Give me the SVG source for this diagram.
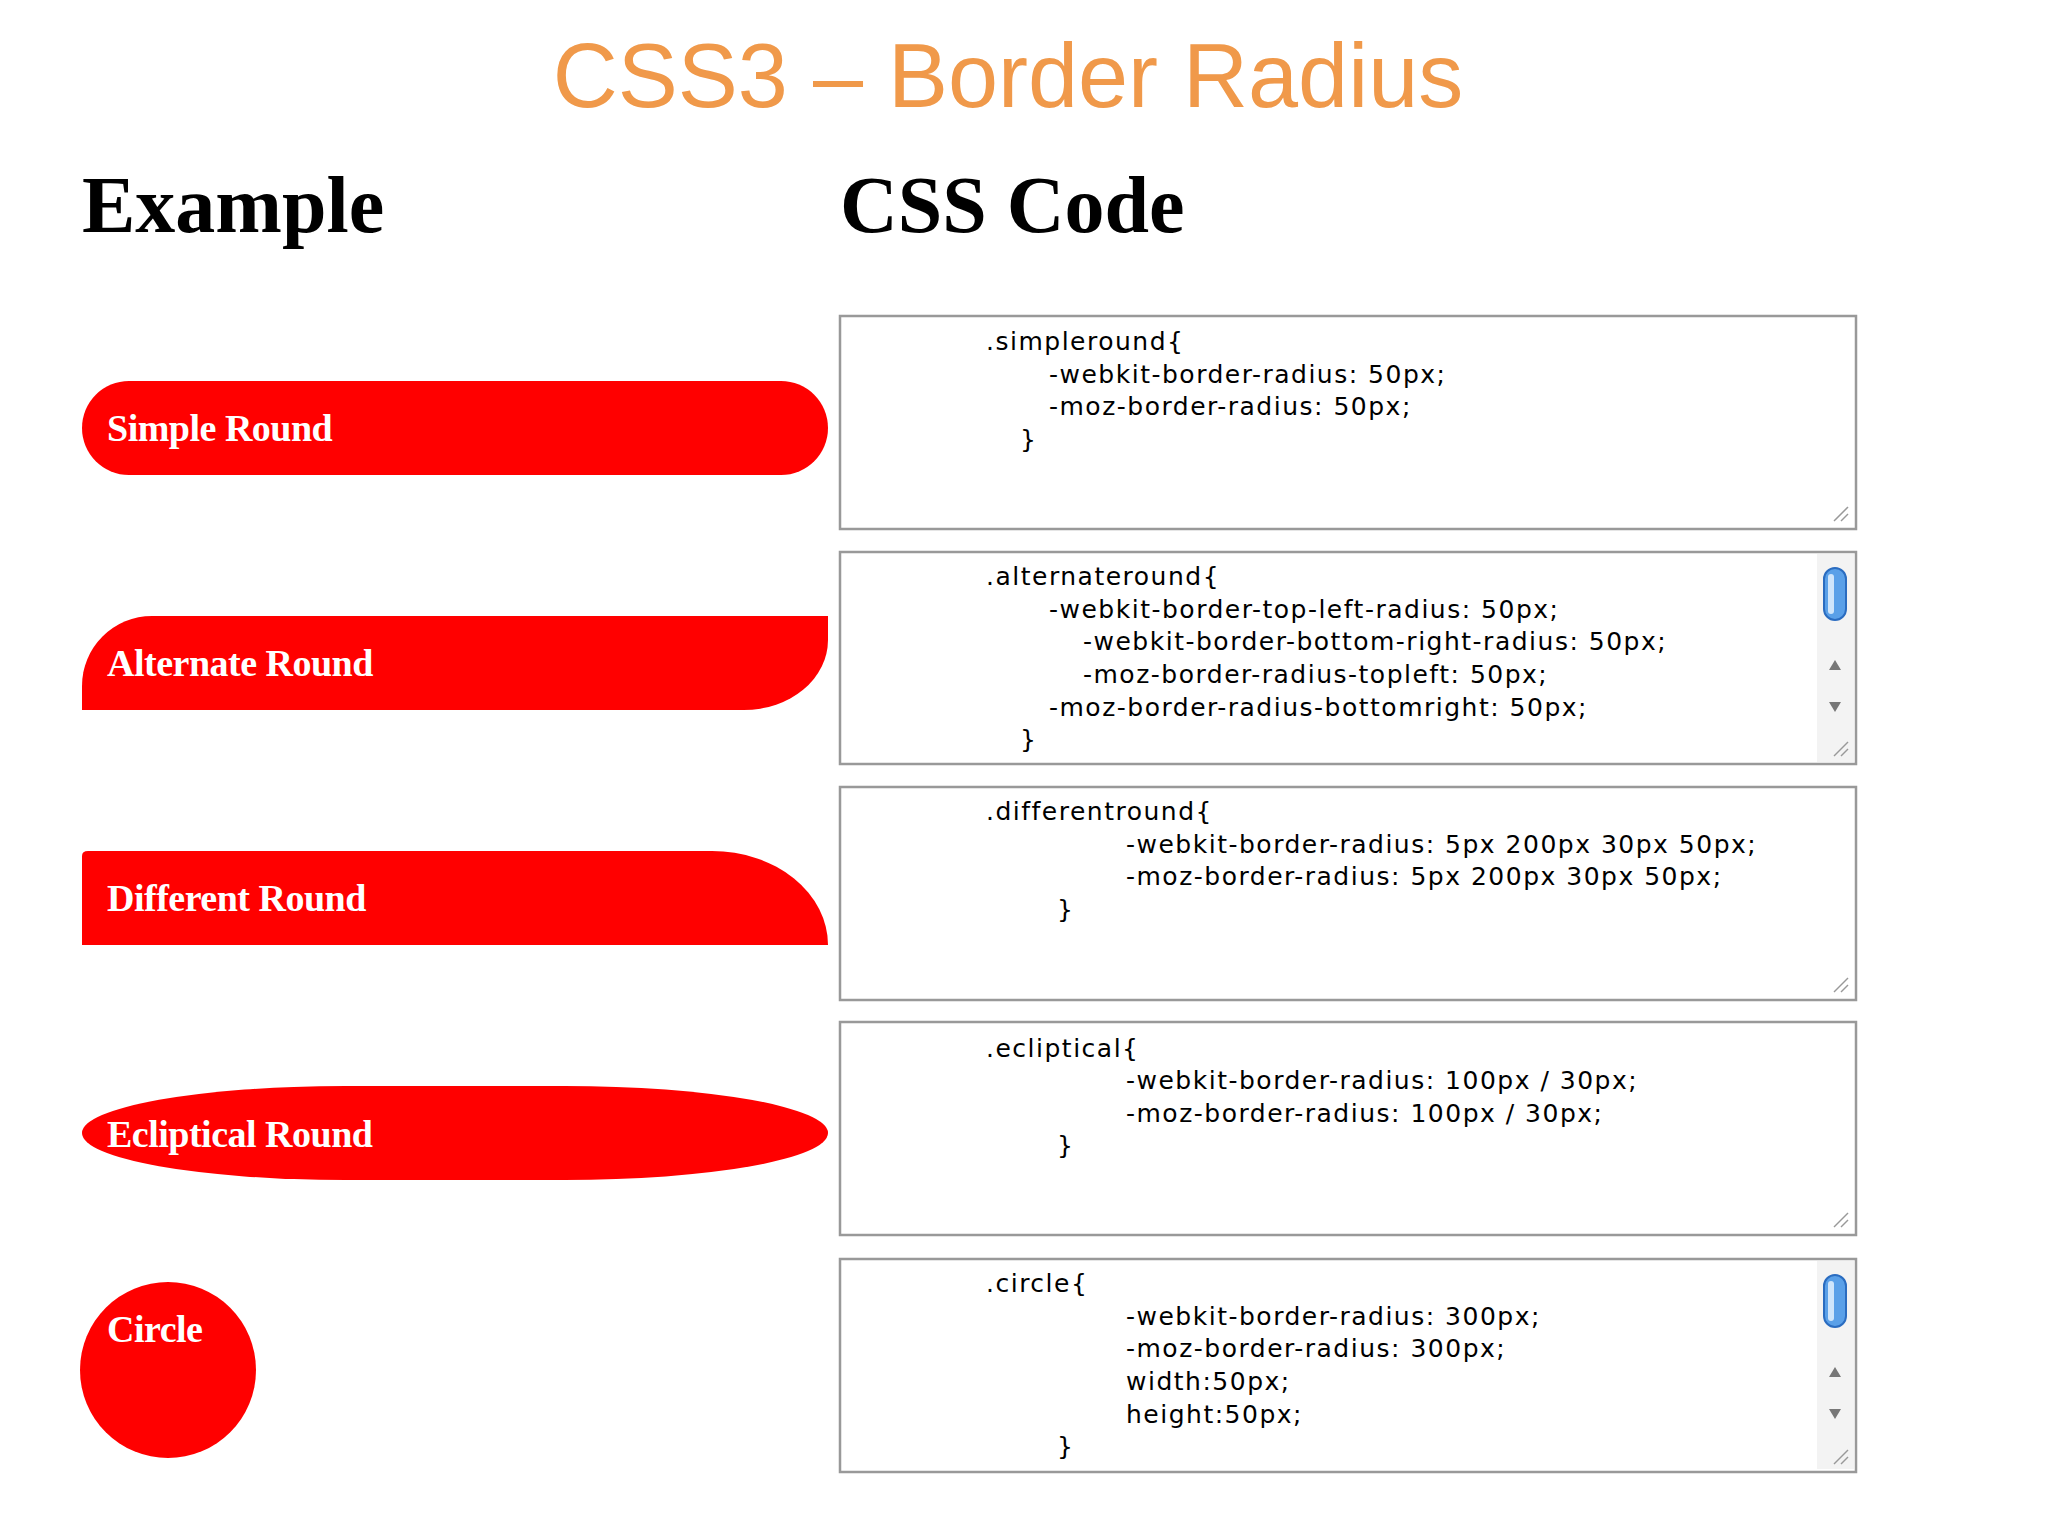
<svg xmlns="http://www.w3.org/2000/svg" width="2048" height="1536" viewBox="0 0 2048 1536">
<style>
.h{font-family:"Liberation Serif",serif;font-weight:bold;font-size:80px;fill:#000}
.lb{font-family:"Liberation Serif",serif;font-weight:bold;font-size:38px;fill:#fff;letter-spacing:-0.5px}
.sh{fill:#ff0000}
.box{fill:#fff;stroke:#999;stroke-width:2.5}
.c{font-family:"DejaVu Sans",sans-serif;font-size:25px;fill:#000;letter-spacing:1.5px}
.grip{stroke:#999;stroke-width:1.5}
</style>
<rect width="2048" height="1536" fill="#fff"/>
<text x="1008" y="107" text-anchor="middle" font-family="Liberation Sans,sans-serif" font-size="90" fill="#F0994A">CSS3 – Border Radius</text>
<text class="h" x="82" y="232">Example</text>
<text class="h" x="840" y="232">CSS Code</text>
<g id="simple"><rect class="sh" x="82" y="381" width="746" height="94" rx="47"/><text class="lb" x="107" y="441">Simple Round</text></g>
<g id="alternate"><path class="sh" d="M82 710 V686 A70 70 0 0 1 152 616 H828 V640 A84 70 0 0 1 744 710 Z"/><text class="lb" x="107" y="676">Alternate Round</text></g>
<g id="different"><path class="sh" d="M82 945 V856 Q82 851 88 851 H712 A116 94 0 0 1 828 945 Z"/><text class="lb" x="107" y="911">Different Round</text></g>
<g id="ecliptical"><path class="sh" d="M345 1086 H565 A263 47 0 0 1 565 1180 H345 A263 47 0 0 1 345 1086 Z"/><text class="lb" x="107" y="1147">Ecliptical Round</text></g>
<g id="circle"><circle class="sh" cx="168" cy="1370" r="88"/><text class="lb" x="107" y="1342">Circle</text></g>
<defs>
<g id="grip"><line class="grip" x1="-4" y1="-18" x2="-18" y2="-4"/><line class="grip" x1="-4" y1="-11" x2="-11" y2="-4"/></g>
<g id="sb"><rect x="0" y="2" width="37" height="208" fill="#f3f3f3"/><rect x="7" y="16" width="22" height="52" rx="11" fill="#5aa0e8" stroke="#2a6cc0" stroke-width="2"/><rect x="11" y="22" width="6" height="40" rx="3" fill="#cfe5fb"/><path d="M12 118 L24 118 L18 108 Z" fill="#777"/><path d="M12 150 L24 150 L18 160 Z" fill="#777"/></g>
</defs>
<g id="code1"><rect class="box" x="840" y="316" width="1016" height="213"/><use href="#grip" x="1852" y="525"/>
<text class="c"><tspan x="986" y="350">.simpleround{</tspan><tspan x="1049" y="383">-webkit-border-radius: 50px;</tspan><tspan x="1049" y="415">-moz-border-radius: 50px;</tspan><tspan x="1020" y="448">}</tspan></text></g>
<g id="code2"><rect class="box" x="840" y="552" width="1016" height="212"/><use href="#sb" x="1817" y="552"/><use href="#grip" x="1852" y="760"/>
<text class="c"><tspan x="986" y="585">.alternateround{</tspan><tspan x="1049" y="618">-webkit-border-top-left-radius: 50px;</tspan><tspan x="1083" y="650">-webkit-border-bottom-right-radius: 50px;</tspan><tspan x="1083" y="683">-moz-border-radius-topleft: 50px;</tspan><tspan x="1049" y="716">-moz-border-radius-bottomright: 50px;</tspan><tspan x="1020" y="748">}</tspan></text></g>
<g id="code3"><rect class="box" x="840" y="787" width="1016" height="213"/><use href="#grip" x="1852" y="996"/>
<text class="c"><tspan x="986" y="820">.differentround{</tspan><tspan x="1126" y="853">-webkit-border-radius: 5px 200px 30px 50px;</tspan><tspan x="1126" y="885">-moz-border-radius: 5px 200px 30px 50px;</tspan><tspan x="1057" y="918">}</tspan></text></g>
<g id="code4"><rect class="box" x="840" y="1022" width="1016" height="213"/><use href="#grip" x="1852" y="1231"/>
<text class="c"><tspan x="986" y="1057">.ecliptical{</tspan><tspan x="1126" y="1089">-webkit-border-radius: 100px / 30px;</tspan><tspan x="1126" y="1122">-moz-border-radius: 100px / 30px;</tspan><tspan x="1057" y="1154">}</tspan></text></g>
<g id="code5"><rect class="box" x="840" y="1259" width="1016" height="213"/><use href="#sb" x="1817" y="1259"/><use href="#grip" x="1852" y="1468"/>
<text class="c"><tspan x="986" y="1292">.circle{</tspan><tspan x="1126" y="1325">-webkit-border-radius: 300px;</tspan><tspan x="1126" y="1357">-moz-border-radius: 300px;</tspan><tspan x="1126" y="1390">width:50px;</tspan><tspan x="1126" y="1423">height:50px;</tspan><tspan x="1057" y="1455">}</tspan></text></g>
</svg>
